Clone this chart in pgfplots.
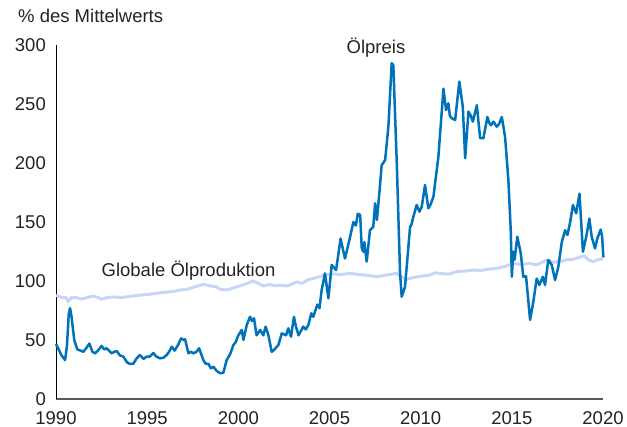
\documentclass[border=0pt]{standalone}
\usepackage{pgfplots}
\pgfplotsset{compat=1.18}
\usepackage{fontspec}
\setmainfont{Liberation Sans}
\definecolor{oil}{RGB}{0,114,186}
\definecolor{prod}{RGB}{200,214,245}
\definecolor{txt}{RGB}{35,35,35}
\begin{document}
\begin{tikzpicture}
\fontsize{18.5bp}{22bp}\selectfont
\begin{axis}[
  scale only axis, width=547bp, height=354bp,
  xmin=1990, xmax=2020, ymin=0, ymax=300,
  axis x line=bottom, axis y line=left,
  x axis line style={-, draw=black!65, line width=1.4bp},
  y axis line style={-, draw=black, line width=1bp},
  xtick={1990,1995,...,2020}, ytick={0,50,...,300},
  major tick length=0pt,
  xticklabel style={anchor=north, inner sep=0pt, yshift=-12bp, text=txt},
  yticklabel style={anchor=east, inner sep=0pt, xshift=-10bp, text=txt},
  /pgf/number format/assume math mode=true,
  /pgf/number format/1000 sep={},
  tick label style={font=\fontsize{18.5bp}{22bp}\selectfont},
  clip=false,
]
\addplot[prod, line width=3bp, line join=round] coordinates {
(1990.0,88) (1990.3,86) (1990.55,86) (1990.67,82.5) (1990.85,86) (1991.1,86) (1991.4,84.7) (1991.7,86)
(1992.05,87.3) (1992.3,86) (1992.5,84.5) (1992.8,86) (1993.2,86.5) (1993.6,86) (1994.2,87.3) (1994.6,88)
(1995.0,88.5) (1995.5,89.6) (1996.0,90.5) (1996.4,91) (1996.8,92.4) (1997.2,93) (1997.6,95) (1998.08,97.2)
(1998.4,96) (1998.8,95) (1999.0,93) (1999.36,92.4) (1999.7,94) (2000.1,96) (2000.5,98) (2000.8,100)
(2001.1,98) (2001.37,95.8) (2001.7,97) (2002.0,96) (2002.3,96.5) (2002.65,95.8) (2002.9,97) (2003.2,99.4)
(2003.5,98) (2003.8,101) (2004.3,103) (2004.76,105) (2005.2,106) (2005.6,105.5) (2006.13,106.5) (2006.6,105.5)
(2007.0,105) (2007.6,103.6) (2008.1,105) (2008.69,106.5) (2009.0,103) (2009.24,101.4) (2009.6,103) (2010.0,104)
(2010.5,105) (2010.8,107) (2011.25,106) (2011.6,106) (2012.0,108) (2012.5,108.5) (2012.9,109.3) (2013.3,109)
(2013.7,110) (2014.1,110.5) (2014.55,112) (2015.08,115) (2015.5,114) (2016.0,115) (2016.36,113.6) (2016.9,117.8)
(2017.3,116) (2017.65,116.4) (2018.0,118) (2018.4,118.5) (2018.8,120.6) (2019.0,121) (2019.2,118) (2019.47,116.4)
(2019.7,118) (2020.02,119)
};
\addplot[oil, line width=2.5bp, line join=round] coordinates {
(1990.00,46.6) (1990.15,42) (1990.30,37) (1990.50,33) (1990.60,45) (1990.70,72) (1990.77,77) (1990.85,70)
(1991.00,50) (1991.17,42) (1991.35,41) (1991.50,40) (1991.65,43) (1991.83,47) (1992.00,40) (1992.14,38.7)
(1992.30,41) (1992.50,45) (1992.65,42) (1992.78,43) (1993.05,38.7) (1993.20,40) (1993.33,40.7) (1993.50,37)
(1993.69,35.9) (1993.90,31) (1994.06,29.7) (1994.25,30) (1994.40,34) (1994.60,37.3) (1994.80,34) (1994.97,35.9)
(1995.15,36) (1995.34,39) (1995.50,36) (1995.70,34.5) (1995.90,35) (1996.07,37.3) (1996.20,40) (1996.35,44.3)
(1996.50,41) (1996.70,46) (1996.86,51.4) (1997.00,50) (1997.08,50.6) (1997.26,38.7) (1997.40,40) (1997.53,38.7)
(1997.70,40) (1997.85,43) (1998.08,33) (1998.20,30) (1998.36,29.7) (1998.50,26) (1998.63,27.4) (1998.80,24)
(1999.00,21.8) (1999.18,22.3) (1999.36,33) (1999.55,38) (1999.73,45.8) (1999.85,48) (2000.00,54) (2000.19,58.5)
(2000.28,50) (2000.46,62.7) (2000.64,69.7) (2000.75,66) (2000.86,68.4) (2001.00,54) (2001.20,58.5) (2001.37,54)
(2001.50,61.3) (2001.65,54) (2001.83,40) (2001.95,41.5) (2002.20,45.8) (2002.38,55.6) (2002.62,54) (2002.74,59.9)
(2002.89,52.8) (2003.05,69.7) (2003.15,62) (2003.30,54) (2003.56,61.3) (2003.70,59) (2003.84,62.7) (2004.00,72.6)
(2004.11,69.7) (2004.33,80) (2004.45,77) (2004.57,92.4) (2004.75,106.5) (2004.94,85.3) (2005.12,113.6) (2005.36,109.3)
(2005.61,136) (2005.72,128) (2005.85,119) (2006.09,134.7) (2006.31,150) (2006.45,147) (2006.55,157) (2006.68,156)
(2006.77,127.6) (2006.86,124.8) (2006.91,133) (2007.04,116.4) (2007.22,143) (2007.32,144.7) (2007.40,146) (2007.50,165.8)
(2007.60,151.7) (2007.77,181) (2007.86,198) (2008.05,202.5) (2008.23,230.8) (2008.41,284.5) (2008.50,283) (2008.69,200)
(2008.87,106.5) (2008.96,86.7) (2009.14,95) (2009.42,146) (2009.50,148) (2009.60,154.5) (2009.78,164.4) (2009.93,158.7)
(2010.06,163) (2010.24,181.4) (2010.42,161.6) (2010.55,165) (2010.70,171.5) (2010.97,205) (2011.25,263) (2011.39,245)
(2011.52,250.6) (2011.60,240) (2011.71,237.9) (2011.89,236.4) (2012.12,269) (2012.31,247.7) (2012.44,204) (2012.62,243.5)
(2012.75,240) (2012.86,235) (2013.08,249) (2013.26,221) (2013.44,221) (2013.66,239) (2013.76,234) (2013.86,232)
(2013.99,235) (2014.17,230.8) (2014.30,233) (2014.45,239) (2014.63,222) (2014.81,185.6) (2014.94,143) (2015.00,103.6)
(2015.08,124.8) (2015.15,118) (2015.30,137.5) (2015.49,123.5) (2015.63,103.6) (2015.78,104) (2016.00,67) (2016.18,82.5)
(2016.36,102) (2016.51,96.6) (2016.70,103.6) (2016.82,96.6) (2017.00,117.8) (2017.19,113.6) (2017.37,100.8) (2017.55,112)
(2017.74,133) (2017.92,143) (2018.05,139) (2018.20,150) (2018.35,164.4) (2018.53,157.4) (2018.71,174) (2018.90,124.8)
(2019.10,139) (2019.25,153) (2019.38,137.5) (2019.56,127.6) (2019.69,136) (2019.87,143.6) (2019.95,138) (2020.02,120)
};
\node[anchor=base, text=txt, inner sep=0pt] at (axis cs:2007.55,293) {Ölpreis};
\node[anchor=base, text=txt, inner sep=0pt] at (axis cs:1997.27,104.2) {Globale Ölproduktion};
\end{axis}
\node[anchor=base west, text=txt, inner sep=0pt] at (-38bp,376bp) {\% des Mittelwerts};
\pgfresetboundingbox
\path[use as bounding box] (-56bp,-28bp) rectangle (571bp,399bp);
\end{tikzpicture}
\end{document}
